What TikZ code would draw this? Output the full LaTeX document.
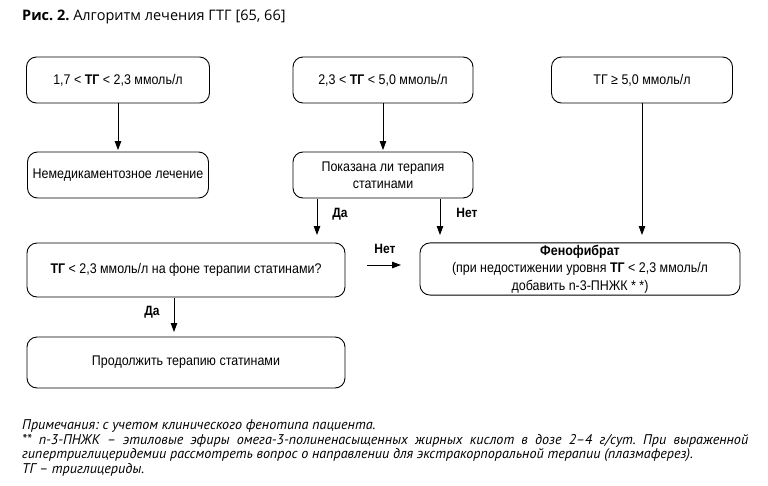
\documentclass[tikz,border=0pt]{standalone}
\usepackage{fontspec}
\setmainfont[FakeStretch=0.89]{Liberation Sans}
\newfontfamily\titlefont{Open Sans}
\newfontfamily\notefont{PT Sans}
\usetikzlibrary{arrows.meta}
\frenchspacing
\begin{document}
\begin{tikzpicture}[x=1pt,y=-1pt,
  box/.style={draw,line width=0.9pt,rounded corners=10pt,inner sep=2pt,align=center,font=\fontsize{14}{17.5}\selectfont},
  arr/.style={line width=0.9pt,-{Triangle[length=9pt,width=6.5pt]}},
  lbl/.style={font=\fontsize{13.5}{15}\selectfont\bfseries,inner sep=0pt},
  note/.style={anchor=base west,inner sep=0pt,font=\notefont\itshape\fontsize{14.1}{15}\selectfont}]
\useasboundingbox (0,0) rectangle (768,485);
% title
\node[anchor=base west,inner sep=0pt,font=\titlefont\fontsize{14.5}{16}\selectfont] (title) at (22,20) {\textbf{Рис. 2.} Алгоритм лечения ГТГ [65, 66]};
% boxes
\node[box,minimum width=183pt,minimum height=46pt] (A) at (118,80) {1,7 < \textbf{ТГ} < 2,3 ммоль/л};
\node[box,minimum width=181pt,minimum height=46pt] (B) at (118,175) {Немедикаментозное лечение};
\node[box,minimum width=180pt,minimum height=46pt] (C) at (383,80) {2,3 < \textbf{ТГ} < 5,0 ммоль/л};
\node[box,minimum width=180pt,minimum height=46pt] (D) at (383,175) {Показана ли терапия\\статинами};
\node[box,minimum width=181pt,minimum height=46pt] (E) at (642,80) {ТГ ≥ 5,0 ммоль/л};
\node[box,minimum width=320pt,minimum height=52pt] (F) at (580,269) {\textbf{Фенофибрат}\\(при недостижении уровня \textbf{ТГ} < 2,3 ммоль/л\\добавить n-3-ПНЖК * *)};
\node[box,minimum width=318pt,minimum height=54pt] (G) at (186,270) {\textbf{ТГ} < 2,3 ммоль/л на фоне терапии статинами?};
\node[box,minimum width=318pt,minimum height=51pt] (H) at (186,362.5) {Продолжить терапию статинами};
% free arrow ends
\coordinate (d1s) at (317,199); \coordinate (d1e) at (317,235);
\coordinate (d2s) at (440,199); \coordinate (d2e) at (440,235);
\coordinate (g1s) at (367,265); \coordinate (g1e) at (401,265);
\coordinate (g2s) at (174,298); \coordinate (g2e) at (174,332);
\coordinate (ee) at (642,235);
% connectors
\draw[arr,shorten >=1.5pt] (A.south) -- (B.north);
\draw[arr,shorten >=1.5pt] (C.south) -- (D.north);
\draw[arr] (E.south) -- (ee);
\draw[arr] (d1s) -- (d1e);
\draw[arr] (d2s) -- (d2e);
\draw[arr] (g1s) -- (g1e);
\draw[arr] (g2s) -- (g2e);
% labels
\node[lbl] (l1) at (340,214) {Да};
\node[lbl] (l2) at (467,213) {Нет};
\node[lbl] (l3) at (385,249) {Нет};
\node[lbl] (l4) at (152,312) {Да};
% notes
\node[note] (n1) at (22,429) {Примечания: с учетом клинического фенотипа пациента.};
\node[note] (n2) at (22,444) {\makebox[726pt][s]{** n-3-ПНЖК – этиловые эфиры омега-3-полиненасыщенных жирных кислот в дозе 2–4 г/сут. При выраженной}};
\node[note] (n3) at (22,458.5) {гипертриглицеридемии рассмотреть вопрос о направлении для экстракорпоральной терапии (плазмаферез).};
\node[note] (n4) at (22,473) {ТГ – триглицериды.};
\end{tikzpicture}
\end{document}
